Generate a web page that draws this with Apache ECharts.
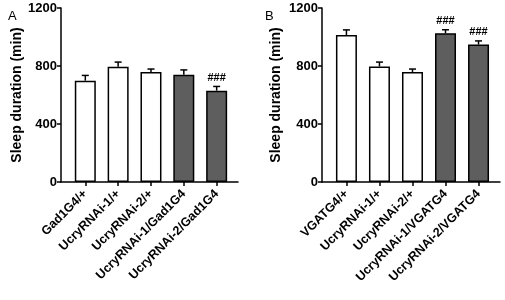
<!DOCTYPE html>
<html>
<head>
<meta charset="utf-8">
<script src="https://cdn.jsdelivr.net/npm/echarts@6/dist/echarts.min.js"></script>
<style>
  html, body { margin: 0; padding: 0; background: #fff; }
  #chart { width: 505px; height: 300px; }
</style>
</head>
<body>
<div id="chart"></div>
<script>
// panel A
var labelsA = ['Gad1G4/+', 'UcryRNAi-1/+', 'UcryRNAi-2/+', 'UcryRNAi-1/Gad1G4', 'UcryRNAi-2/Gad1G4']
var meansA = [699, 795, 759, 740, 630]
var errA = [36, 32, 20, 33, 29]
var sigA = ['', '', '', '', '###']
// panel B
var labelsB = ['VGATG4/+', 'UcryRNAi-1/+', 'UcryRNAi-2/+', 'UcryRNAi-1/VGATG4', 'UcryRNAi-2/VGATG4']
var meansB = [1014, 797, 759, 1026, 948]
var errB = [35, 30, 20, 24, 25]
var sigB = ['', '', '', '###', '###']
var fills = ['#ffffff', '#ffffff', '#ffffff', '#5e5e5e', '#5e5e5e']

var font = 'Arial, "Liberation Sans", sans-serif'
var myChart = echarts.init(document.getElementById('chart'))

function xAxisFor(gi, labels) {
    return {
        type: 'value',
        gridIndex: gi,
        min: -0.74,
        max: 4.65,
        splitLine: { show: false },
        axisLine: { lineStyle: { color: '#000', width: 1.5 } },
        axisTick: { customValues: [0, 1, 2, 3, 4], length: 4, lineStyle: { color: '#000', width: 1.5 } },
        axisLabel: {
            customValues: [0, 1, 2, 3, 4],
            rotate: 45,
            margin: 10,
            color: '#000',
            fontFamily: font,
            fontWeight: 'bold',
            fontSize: 12.5,
            formatter: function (v) { return labels[Math.round(v)] }
        }
    }
}

function yAxisFor(gi, gap) {
    return {
        type: 'value',
        gridIndex: gi,
        min: 0,
        max: 1200,
        interval: 400,
        name: 'Sleep duration (min)',
        nameLocation: 'middle',
        nameGap: gap,
        nameTextStyle: { color: '#000', fontFamily: font, fontWeight: 'bold', fontSize: 14 },
        splitLine: { show: false },
        axisLine: { show: true, onZero: false, lineStyle: { color: '#000', width: 1.5 } },
        axisTick: { show: true, length: 4, lineStyle: { color: '#000', width: 1.5 } },
        axisLabel: {
            color: '#000', fontFamily: font, fontWeight: 'bold', fontSize: 13, margin: 4,
            formatter: function (v) { return String(v) }
        }
    }
}

function barSeries(gi, means) {
    return {
        type: 'bar',
        xAxisIndex: gi,
        yAxisIndex: gi,
        barWidth: 21,
        data: means.map(function (v, i) {
            return { value: [i, v], itemStyle: { color: fills[i] } }
        }),
        itemStyle: { borderColor: '#000', borderWidth: 1.5 }
    }
}

function errSeries(gi, means, errs, sigs) {
    return {
        type: 'custom',
        xAxisIndex: gi,
        yAxisIndex: gi,
        z: 5,
        encode: { x: 0, y: 1 },
        data: means.map(function (v, i) { return [i, v, v + errs[i]] }),
        renderItem: function (params, api) {
            var x = api.value(0)
            var base = api.coord([x, api.value(1)])
            var top = api.coord([x, api.value(2)])
            var s = sigs[params.dataIndex]
            var children = [
                { type: 'line', shape: { x1: base[0], y1: base[1], x2: top[0], y2: top[1] }, style: { stroke: '#000', lineWidth: 1.5 } },
                { type: 'line', shape: { x1: top[0] - 3.5, y1: top[1], x2: top[0] + 3.5, y2: top[1] }, style: { stroke: '#000', lineWidth: 1.5 } }
            ]
            if (s) {
                children.push({
                    type: 'text',
                    x: top[0],
                    y: top[1] - 3,
                    style: { text: s, fill: '#000', font: 'bold 11px ' + font, align: 'center', verticalAlign: 'bottom' }
                })
            }
            return { type: 'group', children: children }
        }
    }
}

myChart.setOption({
    animation: false,
    title: [
        { text: 'A', left: 3, top: 5, textStyle: { fontFamily: font, fontWeight: 'normal', fontSize: 13, color: '#000' } },
        { text: 'B', left: 260, top: 5, textStyle: { fontFamily: font, fontWeight: 'normal', fontSize: 13, color: '#000' } }
    ],
    grid: [
        { left: 61, top: 8, width: 177, height: 174 },
        { left: 322, top: 8, width: 178, height: 174 }
    ],
    xAxis: [xAxisFor(0, labelsA), xAxisFor(1, labelsB)],
    yAxis: [yAxisFor(0, 37), yAxisFor(1, 39)],
    series: [
        barSeries(0, meansA),
        errSeries(0, meansA, errA, sigA),
        barSeries(1, meansB),
        errSeries(1, meansB, errB, sigB)
    ]
})
</script>
</body>
</html>
